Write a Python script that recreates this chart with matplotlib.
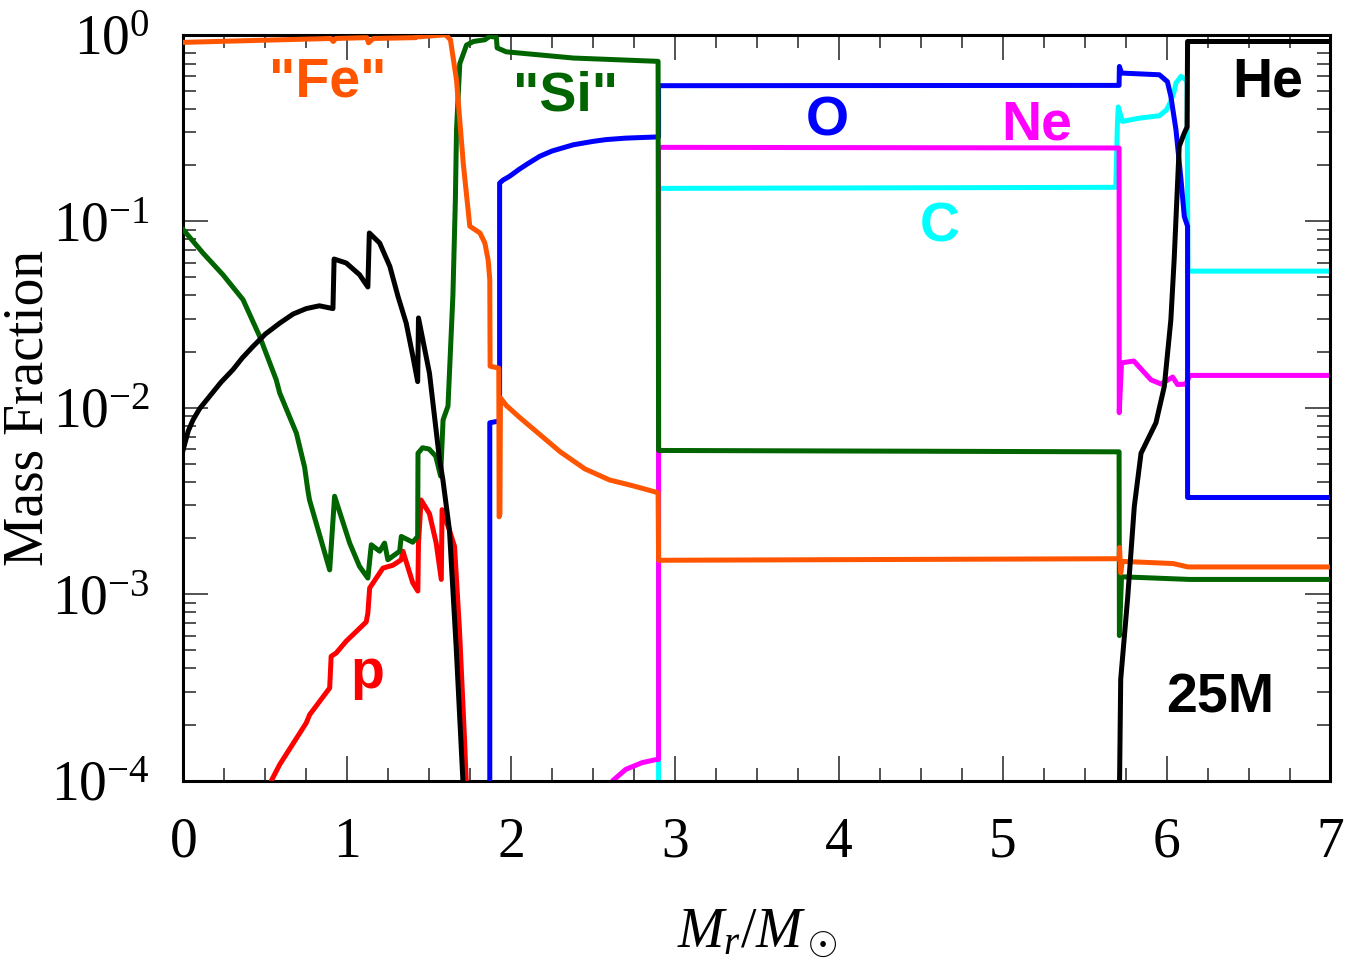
import math
import matplotlib
matplotlib.use("Agg")
import matplotlib.pyplot as plt
from matplotlib.ticker import MultipleLocator, LogLocator, FixedLocator, FuncFormatter, NullFormatter

plt.rcParams["font.family"] = "Liberation Serif"
plt.rcParams["mathtext.fontset"] = "custom"
plt.rcParams["mathtext.rm"] = "Liberation Serif"
plt.rcParams["mathtext.it"] = "Liberation Serif:italic"

# mass coordinate (M_sun) and mass fractions
fe_m = [0, 0.3, 0.6, 0.9, 0.915, 0.93, 1.12, 1.13, 1.16, 1.42, 1.43, 1.44, 1.6, 1.63,
        1.667, 1.708, 1.748, 1.81, 1.84, 1.86, 1.87, 1.872, 1.925, 1.927, 1.932, 1.935,
        1.97, 2.05, 2.15, 2.3, 2.45, 2.6, 2.75, 2.897, 2.9, 5.71, 5.713, 5.72, 5.73,
        6.04, 6.13, 7.0]
fe_x = [0.91, 0.925, 0.94, 0.955, 0.92, 0.955, 0.965, 0.905, 0.955, 0.965, 1.0, 0.975, 1.0, 0.94,
        0.57, 0.205, 0.094, 0.0865, 0.0764, 0.062, 0.0486, 0.0167, 0.0163, 0.0026, 0.0027, 0.0113,
        0.0103, 0.0089, 0.0075, 0.0058, 0.0047, 0.0041, 0.0038, 0.0035, 0.00152, 0.00155, 0.00178, 0.0013, 0.0015,
        0.00146, 0.0014, 0.0014]

si_m = [0, 0.12, 0.242, 0.364, 0.466, 0.567, 0.588, 0.69, 0.74, 0.76, 0.77, 0.893, 0.923,
        1.015, 1.075, 1.126, 1.147, 1.198, 1.228, 1.248, 1.32, 1.33, 1.40, 1.43, 1.432,
        1.46, 1.50, 1.54, 1.57, 1.585, 1.615, 1.645, 1.66, 1.667, 1.687, 1.728, 1.77,
        1.84, 1.87, 1.91, 1.915, 1.97, 2.38, 2.897, 2.9, 5.71, 5.712, 5.725, 6.14, 7.0]
si_x = [0.09, 0.0675, 0.0516, 0.038, 0.0241, 0.0141, 0.012, 0.0073, 0.0048, 0.0036, 0.0032, 0.00135, 0.00335,
        0.00188, 0.00141, 0.00122, 0.00184, 0.0017, 0.00188, 0.00153, 0.0017, 0.00204, 0.0019, 0.00204, 0.0057,
        0.0061, 0.006, 0.0055, 0.0043, 0.0086, 0.0102, 0.04, 0.13, 0.31, 0.7, 0.88, 0.92,
        0.94, 0.98, 0.97, 0.85, 0.81, 0.75, 0.72, 0.0059, 0.0058, 0.0006, 0.00124, 0.0012, 0.0012]

he_m = [0, 0.03, 0.059, 0.1, 0.16, 0.23, 0.303, 0.36, 0.425, 0.5, 0.588, 0.67, 0.75, 0.83, 0.913,
        0.92, 0.994, 1.075, 1.126, 1.135, 1.198, 1.26, 1.31, 1.36, 1.40, 1.43, 1.435, 1.502,
        1.563, 1.584, 1.624, 1.665, 1.706, 1.715]
he_x = [0.006, 0.0075, 0.0086, 0.0099, 0.0115, 0.0137, 0.016, 0.0185, 0.0213, 0.0248, 0.0284, 0.0318, 0.034,
        0.0352, 0.034, 0.0627, 0.0597, 0.0517, 0.0444, 0.0865, 0.0764, 0.0573, 0.0395, 0.0284, 0.019,
        0.0138, 0.0303, 0.0153, 0.0053, 0.0041, 0.0022, 0.00052, 1e-4, 5e-5]
he_out_m = [5.71, 5.713, 5.72, 5.763, 5.803, 5.844, 5.935, 5.986, 6.026, 6.046, 6.077, 6.108,
            6.125, 6.128, 7.0]
he_out_x = [5e-5, 1e-4, 3.5e-4, 9.7e-4, 0.00296, 0.0057, 0.0083, 0.013, 0.0296, 0.062, 0.252, 0.297,
            0.32, 0.92, 0.92]

o_m = [1.87, 1.87, 1.93, 1.93, 1.95, 1.99, 2.05, 2.1, 2.175, 2.25, 2.38, 2.5, 2.58, 2.7, 2.887,
       2.9, 2.9, 5.71, 5.712, 5.725, 5.956, 6.005, 6.026, 6.057, 6.088, 6.108, 6.128, 6.128, 7.0]
o_x = [1e-5, 0.0083, 0.0085, 0.16, 0.166, 0.174, 0.19, 0.203, 0.223, 0.238, 0.257, 0.268, 0.274, 0.279, 0.283,
       0.283, 0.533, 0.535, 0.676, 0.623, 0.61, 0.56, 0.467, 0.31, 0.167, 0.106, 0.094, 0.0033, 0.0033]

ne_m = [2.56, 2.62, 2.7, 2.8, 2.89, 2.9, 2.9, 5.71, 5.711, 5.725, 5.80, 5.905, 5.966, 6.037,
        6.067, 6.118, 6.14, 7.0]
ne_x = [7e-5, 1.0e-4, 1.15e-4, 1.25e-4, 1.3e-4, 1.3e-4, 0.249, 0.247, 0.0094, 0.0174, 0.0178, 0.0141,
        0.0134, 0.0146, 0.0133, 0.0134, 0.0149, 0.0149]

c_m = [2.85, 2.9, 2.9, 5.69, 5.70, 5.705, 5.73, 5.834, 5.956, 6.0, 6.026, 6.046, 6.057, 6.088,
       6.118, 6.125, 6.13, 7.0]
c_x = [1e-5, 1e-5, 0.15, 0.152, 0.336, 0.41, 0.343, 0.357, 0.368, 0.396, 0.44, 0.497, 0.55, 0.598,
       0.574, 0.55, 0.054, 0.054]

p_m = [0.53, 0.537, 0.588, 0.608, 0.75, 0.771, 0.893, 0.902, 0.933, 0.994, 1.116, 1.126, 1.137,
       1.218, 1.279, 1.33, 1.34, 1.40, 1.431, 1.435, 1.451, 1.502, 1.543, 1.574, 1.579, 1.624,
       1.655, 1.685, 1.716, 1.726, 1.73]
p_x = [7e-5, 1e-4, 1.22e-4, 1.3e-4, 2.04e-4, 2.26e-4, 3.14e-4, 4.64e-4, 4.84e-4, 5.6e-4, 7.1e-4, 7.9e-4, 0.00108,
       0.00138, 0.00143, 0.00153, 0.0017, 0.00115, 0.00104, 0.00188, 0.0032, 0.0027, 0.00188, 0.0012, 0.00284, 0.0022,
       0.0018, 6.45e-4, 1.66e-4, 1e-4, 5e-5]

fig = plt.figure(figsize=(13.48, 9.65), dpi=100)
ax = fig.add_axes([0.136, 0.191, 0.851, 0.773])

lw = 3.6
ax.plot(c_m, c_x, color="#00FFFF", lw=lw, zorder=1)
ax.plot(ne_m, ne_x, color="#FF00FF", lw=lw, zorder=2)
ax.plot(p_m, p_x, color="#FF0000", lw=lw, zorder=3)
ax.plot(o_m, o_x, color="#0000FF", lw=lw, zorder=4)
ax.plot(si_m, si_x, color="#006400", lw=lw, zorder=5)
ax.plot(fe_m, fe_x, color="#FF5500", lw=lw, zorder=6)
ax.plot(he_m, he_x, color="black", lw=lw, zorder=7)
ax.plot(he_out_m, he_out_x, color="black", lw=lw, zorder=7)

ax.set_yscale("log")
ax.set_xlim(0, 7)
ax.set_ylim(1e-4, 1)

ax.xaxis.set_major_locator(MultipleLocator(1))
ax.xaxis.set_minor_locator(MultipleLocator(0.25))
ax.yaxis.set_major_locator(FixedLocator([1e-4, 1e-3, 1e-2, 1e-1, 1]))
ax.yaxis.set_minor_locator(LogLocator(base=10, subs=range(2, 10)))
ax.yaxis.set_minor_formatter(NullFormatter())
ax.yaxis.set_major_formatter(FuncFormatter(lambda v, pos: r"$10^{%d}$" % round(math.log10(v))))

ax.tick_params(which="both", direction="in", top=True, right=True, color="#444444", width=1.3)
ax.tick_params(which="major", length=18, labelsize=40, pad=26)
ax.tick_params(which="minor", length=9.5)
ax.tick_params(axis="y", which="major", pad=24)
for s in ax.spines.values():
    s.set_linewidth(2.2)

ax.set_xlabel(r"$M_r/M_\odot$", fontsize=40)
ax.xaxis.set_label_coords(0.5, -0.17)
ax.set_ylabel("Mass Fraction", fontsize=40)
ax.yaxis.set_label_coords(-0.112, 0.5)

lab = dict(family="Liberation Sans", weight="bold", fontsize=40, ha="center", va="baseline", zorder=10)
ax.text(0.882, 0.465, '"Fe"', color="#FF5500", **lab)
ax.text(2.333, 0.391, '"Si"', color="#006400", **lab)
ax.text(3.93, 0.287, "O", color="#0000FF", **lab)
ax.text(5.21, 0.2735, "Ne", color="#FF00FF", **lab)
ax.text(4.614, 0.0776, "C", color="#00FFFF", **lab)
ax.text(6.614, 0.465, "He", color="black", **lab)
ax.text(1.12, 3.15e-4, "p", color="#FF0000", **lab)
ax.text(6.328, 2.32e-4, "25M", color="black", **lab)

fig.savefig("out.png", dpi=100)
